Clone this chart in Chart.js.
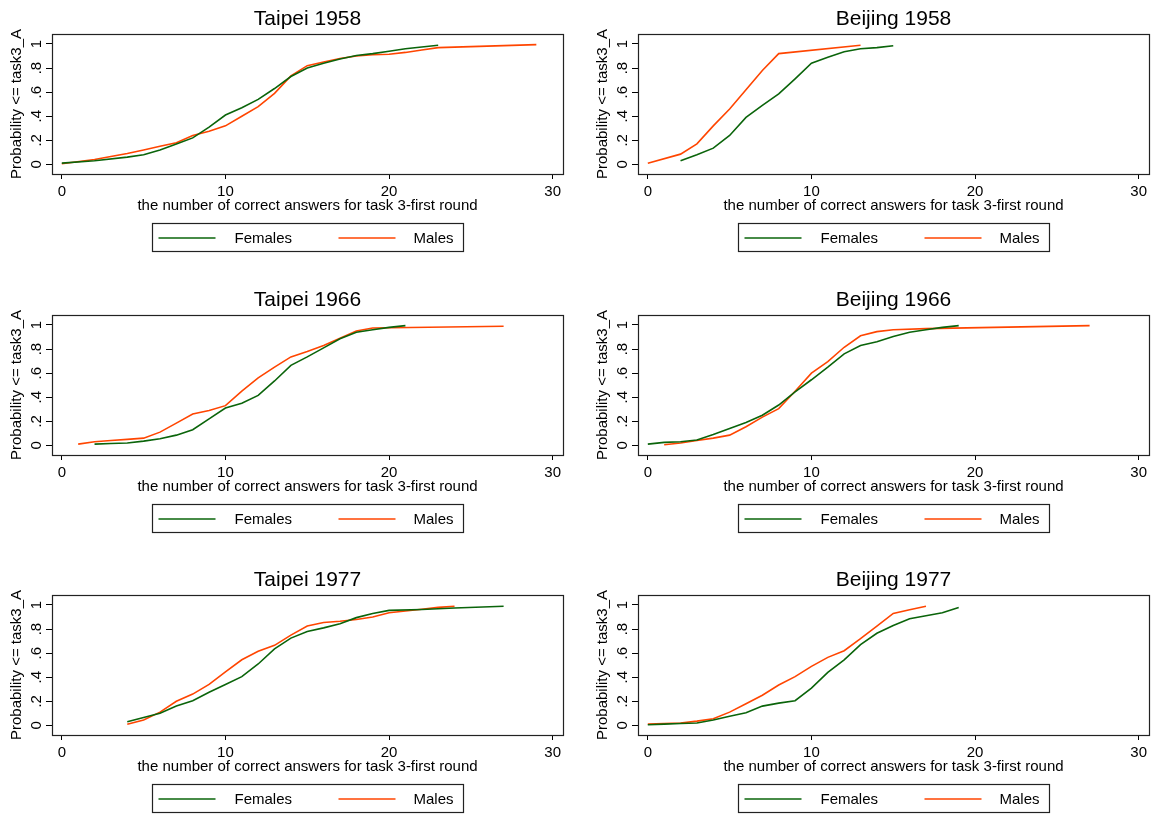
<!DOCTYPE html>
<html>
<head>
<meta charset="utf-8">
<title>task3 cumulative probability</title>
<script src="https://cdn.jsdelivr.net/npm/chart.js@4.4.0/dist/chart.umd.min.js"></script>
<style>
html, body { margin: 0; padding: 0; background: #fff; overflow: hidden; }
#wrap { position: relative; width: 1153px; height: 814px; }
.pane { position: absolute; width: 567px; height: 253px; }
</style>
</head>
<body>
<div id="wrap">
  <div class="pane" style="left:0;top:0"><canvas id="c1" width="567" height="253"></canvas></div>
  <div class="pane" style="left:586px;top:0"><canvas id="c2" width="567" height="253"></canvas></div>
  <div class="pane" style="left:0;top:281px"><canvas id="c3" width="567" height="253"></canvas></div>
  <div class="pane" style="left:586px;top:281px"><canvas id="c4" width="567" height="253"></canvas></div>
  <div class="pane" style="left:0;top:561px"><canvas id="c5" width="567" height="253"></canvas></div>
  <div class="pane" style="left:586px;top:561px"><canvas id="c6" width="567" height="253"></canvas></div>
</div>
<script>
// axis ticks / labels
var xTicks = [0, 10, 20, 30];
var yTicks = [0, 0.2, 0.4, 0.6, 0.8, 1];
var yTickLabels = ['0', '.2', '.4', '.6', '.8', '1'];
var seriesNames = ['Females', 'Males'];
var xTitle = 'the number of correct answers for task 3-first round';
var yTitle = 'Probability <= task3_A';

// Taipei 1958
var tp58FemX = [0, 2, 4, 5, 6, 7, 8, 9, 10, 11, 12, 13, 14, 15, 16, 17, 18, 19, 20, 21, 22, 23];
var tp58FemY = [0.01, 0.03, 0.06, 0.08, 0.12, 0.17, 0.22, 0.31, 0.41, 0.47, 0.54, 0.63, 0.73, 0.80, 0.84, 0.875, 0.905, 0.92, 0.94, 0.96, 0.975, 0.99];
var tp58MalX = [0, 2, 3, 4, 5, 6, 7, 8, 9, 10, 11, 12, 13, 14, 15, 16, 17, 18, 19, 20, 21, 22, 23, 29];
var tp58MalY = [0.005, 0.04, 0.065, 0.09, 0.12, 0.15, 0.18, 0.24, 0.275, 0.32, 0.40, 0.48, 0.59, 0.735, 0.82, 0.85, 0.88, 0.90, 0.91, 0.915, 0.93, 0.95, 0.97, 0.995];

// Beijing 1958
var bj58FemX = [2, 3, 4, 5, 6, 7, 8, 9, 10, 11, 12, 13, 14, 15];
var bj58FemY = [0.03, 0.08, 0.135, 0.24, 0.39, 0.49, 0.585, 0.71, 0.84, 0.89, 0.935, 0.96, 0.97, 0.985];
var bj58MalX = [0, 2, 3, 4, 5, 6, 7, 8, 13];
var bj58MalY = [0.01, 0.085, 0.17, 0.32, 0.46, 0.62, 0.78, 0.92, 0.99];

// Taipei 1966
var tp66FemX = [2, 3, 4, 5, 6, 7, 8, 9, 10, 11, 12, 13, 14, 15, 16, 17, 18, 19, 20, 21];
var tp66FemY = [0.01, 0.015, 0.02, 0.035, 0.055, 0.085, 0.13, 0.22, 0.31, 0.35, 0.415, 0.535, 0.665, 0.735, 0.81, 0.885, 0.94, 0.96, 0.98, 0.995];
var tp66MalX = [1, 2, 3, 4, 5, 6, 7, 8, 9, 10, 11, 12, 13, 14, 15, 16, 17, 18, 19, 27];
var tp66MalY = [0.01, 0.03, 0.04, 0.05, 0.06, 0.11, 0.185, 0.26, 0.29, 0.33, 0.45, 0.56, 0.65, 0.735, 0.78, 0.83, 0.89, 0.95, 0.975, 0.99];

// Beijing 1966
var bj66FemX = [0, 1, 2, 3, 4, 5, 6, 7, 8, 9, 10, 11, 12, 13, 14, 15, 16, 17, 18, 19];
var bj66FemY = [0.01, 0.025, 0.03, 0.045, 0.09, 0.14, 0.19, 0.25, 0.335, 0.445, 0.545, 0.65, 0.76, 0.83, 0.86, 0.905, 0.94, 0.96, 0.98, 0.995];
var bj66MalX = [1, 2, 3, 4, 5, 6, 7, 8, 9, 10, 11, 12, 13, 14, 15, 17, 27];
var bj66MalY = [0.005, 0.02, 0.04, 0.06, 0.085, 0.155, 0.235, 0.305, 0.45, 0.60, 0.695, 0.815, 0.91, 0.945, 0.96, 0.97, 0.995];

// Taipei 1977
var tp77FemX = [4, 5, 6, 7, 8, 9, 10, 11, 12, 13, 14, 15, 16, 17, 18, 19, 20, 22, 24, 27];
var tp77FemY = [0.03, 0.065, 0.10, 0.16, 0.205, 0.275, 0.34, 0.405, 0.51, 0.635, 0.725, 0.78, 0.81, 0.845, 0.895, 0.93, 0.955, 0.962, 0.975, 0.99];
var tp77MalX = [4, 5, 6, 7, 8, 9, 10, 11, 12, 13, 14, 15, 16, 17, 18, 19, 20, 21, 22, 23, 24];
var tp77MalY = [0.01, 0.045, 0.11, 0.20, 0.26, 0.34, 0.445, 0.545, 0.615, 0.665, 0.75, 0.825, 0.855, 0.865, 0.88, 0.90, 0.935, 0.95, 0.965, 0.98, 0.99];

// Beijing 1977
var bj77FemX = [0, 1, 2, 3, 4, 5, 6, 7, 8, 9, 10, 11, 12, 13, 14, 15, 16, 17, 18, 19];
var bj77FemY = [0.005, 0.01, 0.015, 0.02, 0.045, 0.075, 0.105, 0.16, 0.185, 0.205, 0.31, 0.44, 0.545, 0.67, 0.765, 0.83, 0.885, 0.91, 0.935, 0.98];
var bj77MalX = [0, 1, 2, 3, 4, 5, 6, 7, 8, 9, 10, 11, 12, 13, 14, 15, 16, 17];
var bj77MalY = [0.01, 0.015, 0.02, 0.035, 0.055, 0.11, 0.18, 0.25, 0.335, 0.405, 0.49, 0.565, 0.62, 0.72, 0.825, 0.93, 0.96, 0.99];

var femColor = '#0a640a';
var malColor = '#ff4500';
var fontFam = '"Liberation Sans", Arial, Helvetica, sans-serif';

Chart.defaults.font.family = fontFam;
Chart.defaults.color = '#000';

function pts(xs, ys) {
  return xs.map(function (x, i) { return { x: x, y: ys[i] }; });
}

// box round the plot region
var framePlugin = {
  id: 'frame',
  afterDraw: function (chart) {
    var a = chart.chartArea, ctx = chart.ctx;
    ctx.save();
    ctx.strokeStyle = '#222';
    ctx.lineWidth = 1.2;
    ctx.strokeRect(Math.round(a.left) + 0.5, Math.round(a.top) + 0.5, Math.round(a.right - a.left), Math.round(a.bottom - a.top));
    ctx.restore();
  }
};

// stata-like boxed legend under the x title
var legendBoxPlugin = {
  id: 'legendBox',
  afterDraw: function (chart) {
    var ctx = chart.ctx, a = chart.chartArea;
    var left = Math.round((a.left + a.right) / 2 - 155.5) + 0.5;
    var top = Math.round(a.bottom + 49) + 0.5;
    ctx.save();
    ctx.strokeStyle = '#222';
    ctx.lineWidth = 1.2;
    ctx.strokeRect(left, top, 311, 28);
    var offs = [[6, 63, 82], [186, 243, 261]];
    ctx.font = '15px ' + fontFam;
    ctx.textBaseline = 'middle';
    ctx.textAlign = 'left';
    chart.data.datasets.forEach(function (ds, i) {
      ctx.strokeStyle = ds.borderColor;
      ctx.lineWidth = ds.borderWidth;
      ctx.beginPath();
      ctx.moveTo(left + offs[i][0], top + 14.5);
      ctx.lineTo(left + offs[i][1], top + 14.5);
      ctx.stroke();
      ctx.fillStyle = '#000';
      ctx.fillText(ds.label, left + offs[i][2], top + 15);
    });
    ctx.restore();
  }
};

function makePanel(id, title, fx, fy, mx, my) {
  var ctx = document.getElementById(id).getContext('2d');
  return new Chart(ctx, {
    type: 'scatter',
    data: {
      datasets: [{
        label: seriesNames[0],
        data: pts(fx, fy),
        showLine: true,
        borderColor: femColor,
        backgroundColor: femColor,
        borderWidth: 1.6,
        pointRadius: 0,
        tension: 0,
        fill: false
      }, {
        label: seriesNames[1],
        data: pts(mx, my),
        showLine: true,
        borderColor: malColor,
        backgroundColor: malColor,
        borderWidth: 1.6,
        pointRadius: 0,
        tension: 0,
        fill: false
      }]
    },
    options: {
      responsive: false,
      animation: false,
      events: [],
      layout: { padding: { left: 0, right: 4, top: 0, bottom: 38 } },
      plugins: {
        legend: { display: false },
        tooltip: { enabled: false },
        title: {
          display: true,
          text: title,
          fullSize: false,
          color: '#000',
          font: { size: 21, weight: 'normal' },
          padding: { top: 6.4, bottom: 2.4 }
        }
      },
      scales: {
        x: {
          type: 'linear',
          min: -0.6,
          max: 30.63,
          afterBuildTicks: function (s) { s.ticks = xTicks.map(function (v) { return { value: v }; }); },
          afterFit: function (s) { s.height = 41; },
          border: { display: false },
          grid: { drawOnChartArea: false, drawTicks: true, tickLength: 5, color: '#000' },
          ticks: { font: { size: 15 }, padding: 4, maxRotation: 0, autoSkip: false, color: '#000' },
          title: { display: true, text: xTitle, font: { size: 15 }, color: '#000', padding: { top: 0, bottom: 0 } }
        },
        y: {
          type: 'linear',
          min: -0.08,
          max: 1.083,
          afterBuildTicks: function (s) { s.ticks = yTicks.map(function (v) { return { value: v }; }); },
          afterFit: function (s) { s.width = 52; },
          border: { display: false },
          grid: { drawOnChartArea: false, drawTicks: true, tickLength: 6, color: '#000' },
          ticks: {
            font: { size: 15 },
            padding: 3,
            minRotation: 90,
            maxRotation: 90,
            crossAlign: 'center',
            autoSkip: false,
            color: '#000',
            callback: function (v) {
              var i = yTicks.indexOf(v);
              return i >= 0 ? yTickLabels[i] : '';
            }
          },
          title: { display: true, text: yTitle, font: { size: 15 }, color: '#000', padding: { top: 8, bottom: 0 } }
        }
      }
    },
    plugins: [framePlugin, legendBoxPlugin]
  });
}

makePanel('c1', 'Taipei 1958', tp58FemX, tp58FemY, tp58MalX, tp58MalY);
makePanel('c2', 'Beijing 1958', bj58FemX, bj58FemY, bj58MalX, bj58MalY);
makePanel('c3', 'Taipei 1966', tp66FemX, tp66FemY, tp66MalX, tp66MalY);
makePanel('c4', 'Beijing 1966', bj66FemX, bj66FemY, bj66MalX, bj66MalY);
makePanel('c5', 'Taipei 1977', tp77FemX, tp77FemY, tp77MalX, tp77MalY);
makePanel('c6', 'Beijing 1977', bj77FemX, bj77FemY, bj77MalX, bj77MalY);
</script>
</body>
</html>
